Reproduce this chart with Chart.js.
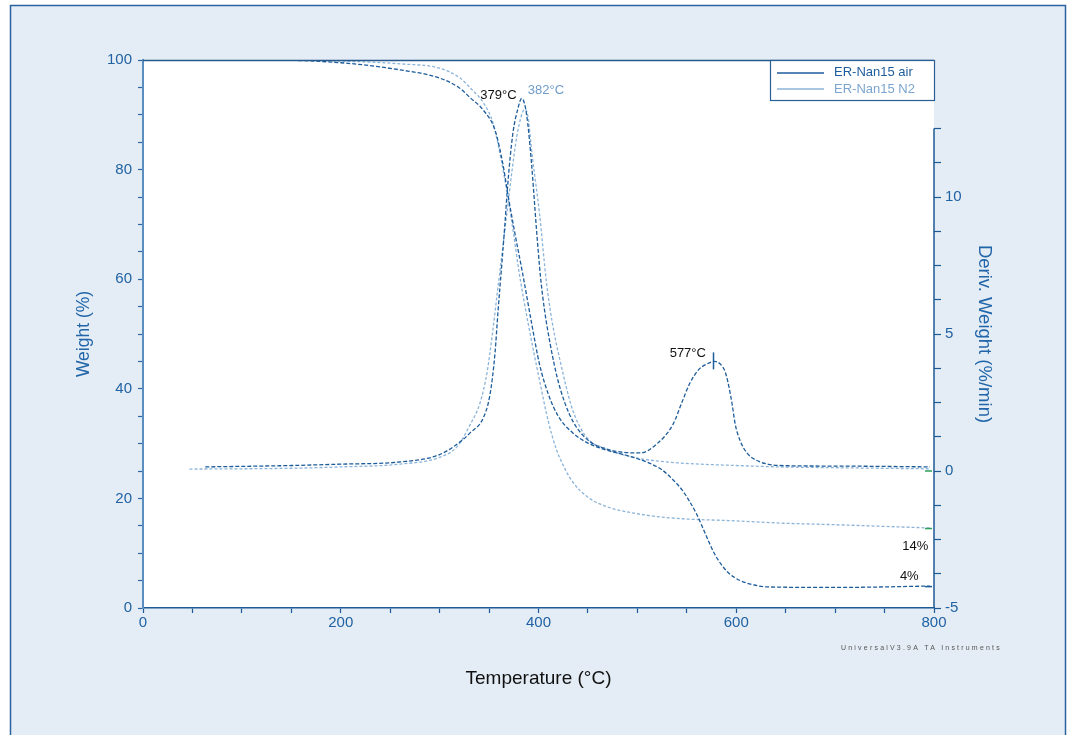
<!DOCTYPE html>
<html>
<head>
<meta charset="utf-8">
<script src="https://cdn.jsdelivr.net/npm/chart.js@4.4.1/dist/chart.umd.min.js"></script>
<style>
  html, body { margin: 0; padding: 0; background: #ffffff; }
  #wrap { position: absolute; left: 0; top: 0; width: 1069px; height: 735px; }
</style>
</head>
<body>
<div id="wrap"><canvas id="tga" width="1069" height="735"></canvas></div>
<script>
// weight loss curves (left axis, %)
var airWeightT = [60, 120, 200, 260, 300, 320, 331, 344, 356, 364, 369, 376, 384, 393, 401, 410, 420, 435, 450, 469, 490, 510, 525, 536, 545, 553, 560, 566, 572, 578, 585, 591, 598, 604, 618, 631, 700, 796];
var airWeight  = [100, 100, 99.5, 98.2, 96.7, 94.9, 93.1, 90.9, 87.2, 81.0, 75.5, 68.5, 61.0, 52.0, 44.5, 39.0, 35.0, 31.9, 30.1, 28.8, 27.8, 26.6, 25.2, 23.4, 21.6, 19.4, 17.1, 14.7, 12.2, 9.9, 7.9, 6.6, 5.6, 5.0, 4.2, 3.85, 3.75, 4.0];
var n2WeightT = [50, 120, 200, 260, 300, 320, 331, 345, 354, 362, 369, 375, 380, 390, 401, 410, 418, 427, 435, 450, 469, 500, 536, 600, 644, 700, 796];
var n2Weight  = [100, 100, 99.8, 99.3, 98.5, 96.8, 94.9, 92, 88.5, 82, 75, 68, 61.7, 51.5, 41.6, 34.0, 29.0, 25.3, 22.9, 20.2, 18.5, 17.2, 16.4, 15.9, 15.5, 15.2, 14.6];

// derivative curves (right axis, %/min)
var airDerivT = [63, 150, 200, 260, 300, 322, 331, 344, 351, 356, 359, 363, 366, 369, 374, 379, 383, 388, 393, 398, 402, 406, 412, 419, 427, 435, 445, 455, 469, 486, 503, 520, 536, 545, 553, 562, 570, 578, 584, 589, 593, 596, 599, 604, 611, 620, 644, 700, 796];
var airDeriv  = [0.15, 0.2, 0.25, 0.33, 0.6, 1.1, 1.4, 1.93, 2.8, 4.3, 5.8, 7.6, 9.0, 10.5, 12.3, 13.2, 13.6, 13.0, 11.2, 8.8, 7.1, 5.9, 4.6, 3.4, 2.45, 1.8, 1.3, 1.0, 0.8, 0.68, 0.66, 1.0, 1.7, 2.5, 3.2, 3.7, 3.9, 4.0, 3.9, 3.6, 3.0, 2.4, 1.7, 1.1, 0.65, 0.4, 0.2, 0.18, 0.15];
var n2DerivT = [47, 150, 200, 260, 300, 318, 331, 341, 348, 353, 358, 363, 368, 373, 378, 383, 386, 389, 394, 401, 408, 414, 422, 433, 442, 452, 469, 485, 503, 540, 600, 644, 700, 796];
var n2Deriv  = [0.07, 0.1, 0.15, 0.25, 0.5, 0.9, 1.7, 2.5, 3.6, 4.9, 6.4, 7.9, 9.4, 10.9, 12.2, 13.0, 13.2, 13.0, 11.4, 9.4, 6.9, 5.4, 4.0, 2.4, 1.6, 1.1, 0.8, 0.6, 0.45, 0.3, 0.2, 0.15, 0.12, 0.08];

var seriesNames = ['ER-Nan15 air', 'ER-Nan15 N2'];
var xTickLabels = [0, 200, 400, 600, 800];
var yTickLabels = [0, 20, 40, 60, 80, 100];
var y2TickLabels = [-5, 0, 5, 10];

var darkBlue = '#1d5c9b';
var lightBlue = '#8cb3d8';
var axisBlue = '#2062a3';
var fontFam = '"Liberation Sans", Arial, sans-serif';

function pairs(t, v) {
    var out = [];
    for (var i = 0; i < t.length; i++) {
        out.push({ x: t[i], y: v[i] });
    }
    return out;
}

var frame = {
    id: 'frame',
    beforeDraw: function (chart) {
        var c = chart.ctx, a = chart.chartArea;
        c.save();
        c.fillStyle = '#ffffff';
        c.fillRect(0, 0, chart.width, chart.height);
        c.fillStyle = '#e4edf5';
        c.fillRect(10, 5, 1056, 740);
        c.strokeStyle = '#2a62a0';
        c.lineWidth = 1.5;
        c.strokeRect(10.5, 5.5, 1055, 740);
        c.fillStyle = '#ffffff';
        c.fillRect(a.left, a.top, a.right - a.left, a.bottom - a.top);
        c.restore();
    },
    afterDraw: function (chart) {
        var c = chart.ctx, a = chart.chartArea;
        var sx = chart.scales.x, sy = chart.scales.y, s2 = chart.scales.y2;
        c.save();
        // top border of plot
        c.strokeStyle = '#27588c';
        c.lineWidth = 1.5;
        c.beginPath();
        c.moveTo(a.left, a.top + 0.5);
        c.lineTo(a.right, a.top + 0.5);
        c.stroke();
        // right axis line, only up to 12.5
        c.strokeStyle = '#1d5a95';
        c.beginPath();
        c.moveTo(a.right, s2.getPixelForValue(12.5));
        c.lineTo(a.right, s2.getPixelForValue(-5));
        c.stroke();

        // legend box
        c.fillStyle = '#ffffff';
        c.fillRect(770, 60, 165, 40);
        c.strokeStyle = '#2a5f95';
        c.lineWidth = 1.2;
        c.strokeRect(770.5, 60.5, 164, 40);
        c.lineWidth = 1.3;
        c.strokeStyle = darkBlue;
        c.beginPath(); c.moveTo(777, 73); c.lineTo(824, 73); c.stroke();
        c.strokeStyle = lightBlue;
        c.beginPath(); c.moveTo(777, 89); c.lineTo(824, 89); c.stroke();
        c.font = '13px ' + fontFam;
        c.textBaseline = 'middle';
        c.textAlign = 'left';
        c.fillStyle = darkBlue;
        c.fillText(seriesNames[0], 834, 72);
        c.fillStyle = '#7ba5cf';
        c.fillText(seriesNames[1], 834, 89);

        // peak labels
        c.textAlign = 'center';
        c.fillStyle = '#111111';
        c.fillText('379°C', sx.getPixelForValue(359.5), s2.getPixelForValue(13.7));
        c.fillStyle = '#6f9cc8';
        c.fillText('382°C', sx.getPixelForValue(407.5), s2.getPixelForValue(13.9));
        c.fillStyle = '#111111';
        c.fillText('577°C', sx.getPixelForValue(551), s2.getPixelForValue(4.3));
        // peak marker at 577
        var px = sx.getPixelForValue(577), py = s2.getPixelForValue(4.0);
        c.strokeStyle = darkBlue;
        c.lineWidth = 1.5;
        c.beginPath(); c.moveTo(px, py - 9); c.lineTo(px, py + 8); c.stroke();

        // residue labels
        c.fillStyle = '#111111';
        c.fillText('14%', sx.getPixelForValue(781), sy.getPixelForValue(11.2));
        c.fillText('4%', sx.getPixelForValue(775), sy.getPixelForValue(5.8));
        // end markers
        var ex = sx.getPixelForValue(794);
        c.lineWidth = 1.5;
        c.strokeStyle = '#2aa05a';
        c.beginPath(); c.moveTo(ex - 3, s2.getPixelForValue(0)); c.lineTo(ex + 4, s2.getPixelForValue(0)); c.stroke();
        c.beginPath(); c.moveTo(ex - 3, sy.getPixelForValue(14.5)); c.lineTo(ex + 4, sy.getPixelForValue(14.5)); c.stroke();
        c.strokeStyle = darkBlue;
        c.beginPath(); c.moveTo(ex - 3, sy.getPixelForValue(3.9)); c.lineTo(ex + 4, sy.getPixelForValue(3.9)); c.stroke();

        // instrument stamp
        c.font = '7px ' + fontFam;
        c.fillStyle = '#555555';
        c.textAlign = 'left';
        if ('letterSpacing' in c) {
            c.letterSpacing = '2.2px';
            c.fillText('UniversalV3.9A TA Instruments', 841, 648);
            c.letterSpacing = '0px';
        } else {
            c.fillText('U n i v e r s a l V 3 . 9 A   T A   I n s t r u m e n t s', 841, 648);
        }
        c.restore();
    }
};

var ctx = document.getElementById('tga');
var tgaChart = new Chart(ctx, {
    type: 'line',
    data: {
        datasets: [{
            label: seriesNames[0],
            data: pairs(airWeightT, airWeight),
            yAxisID: 'y',
            borderColor: darkBlue,
            borderWidth: 1.3,
            borderDash: [4, 2]
        }, {
            label: seriesNames[1],
            data: pairs(n2WeightT, n2Weight),
            yAxisID: 'y',
            borderColor: lightBlue,
            borderWidth: 1.3,
            borderDash: [3, 2]
        }, {
            label: seriesNames[0] + ' deriv',
            data: pairs(airDerivT, airDeriv),
            yAxisID: 'y2',
            borderColor: darkBlue,
            borderWidth: 1.3,
            borderDash: [4, 2]
        }, {
            label: seriesNames[1] + ' deriv',
            data: pairs(n2DerivT, n2Deriv),
            yAxisID: 'y2',
            borderColor: lightBlue,
            borderWidth: 1.3,
            borderDash: [3, 2]
        }]
    },
    options: {
        responsive: false,
        animation: false,
        elements: {
            point: { radius: 0 },
            line: { cubicInterpolationMode: 'monotone', fill: false }
        },
        layout: { padding: { top: 60, left: 0, right: 0, bottom: 0 } },
        plugins: {
            legend: { display: false },
            tooltip: { enabled: false },
            title: { display: false }
        },
        scales: {
            x: {
                type: 'linear',
                min: 0,
                max: 800,
                afterFit: function (s) { s.height = 127; },
                border: { color: '#1d5a95', width: 1.5 },
                grid: { drawOnChartArea: false, tickLength: 5, color: '#1d5a95', tickWidth: 1.2 },
                ticks: {
                    stepSize: 50,
                    autoSkip: false,
                    maxRotation: 0,
                    padding: 1,
                    color: axisBlue,
                    font: { family: fontFam, size: 15 },
                    callback: function (v) { return xTickLabels.indexOf(v) >= 0 ? v : ''; }
                },
                title: {
                    display: true,
                    text: 'Temperature (°C)',
                    color: '#111111',
                    font: { family: fontFam, size: 19 },
                    padding: { top: 0, bottom: 45 }
                }
            },
            y: {
                type: 'linear',
                position: 'left',
                min: 0,
                max: 100,
                afterFit: function (s) { s.width = 143; },
                border: { color: '#5b8ec0', width: 2 },
                grid: { drawOnChartArea: false, tickLength: 5, color: '#2c67a6', tickWidth: 1.2 },
                ticks: {
                    stepSize: 5,
                    autoSkip: false,
                    padding: 6,
                    color: axisBlue,
                    font: { family: fontFam, size: 15 },
                    callback: function (v) { return yTickLabels.indexOf(v) >= 0 ? v : ''; }
                },
                title: {
                    display: true,
                    text: 'Weight (%)',
                    color: '#2266aa',
                    font: { family: fontFam, size: 17.5 },
                    padding: { top: 74, bottom: 0 }
                }
            },
            y2: {
                type: 'linear',
                position: 'right',
                min: -5,
                max: 15,
                afterFit: function (s) { s.width = 135; },
                border: { display: false },
                grid: {
                    drawOnChartArea: false,
                    tickLength: 7,
                    tickWidth: 1.2,
                    color: function (c) { return c.tick && c.tick.value > 12.5 ? 'rgba(0,0,0,0)' : '#1d5a95'; }
                },
                ticks: {
                    stepSize: 1.25,
                    autoSkip: false,
                    padding: 4,
                    color: axisBlue,
                    font: { family: fontFam, size: 15 },
                    callback: function (v) { return y2TickLabels.indexOf(v) >= 0 ? v : ''; }
                },
                title: {
                    display: true,
                    text: 'Deriv. Weight (%/min)',
                    color: '#2266aa',
                    font: { family: fontFam, size: 18.5 },
                    padding: { top: 74, bottom: 0 }
                }
            }
        }
    },
    plugins: [frame]
});
</script>
</body>
</html>
